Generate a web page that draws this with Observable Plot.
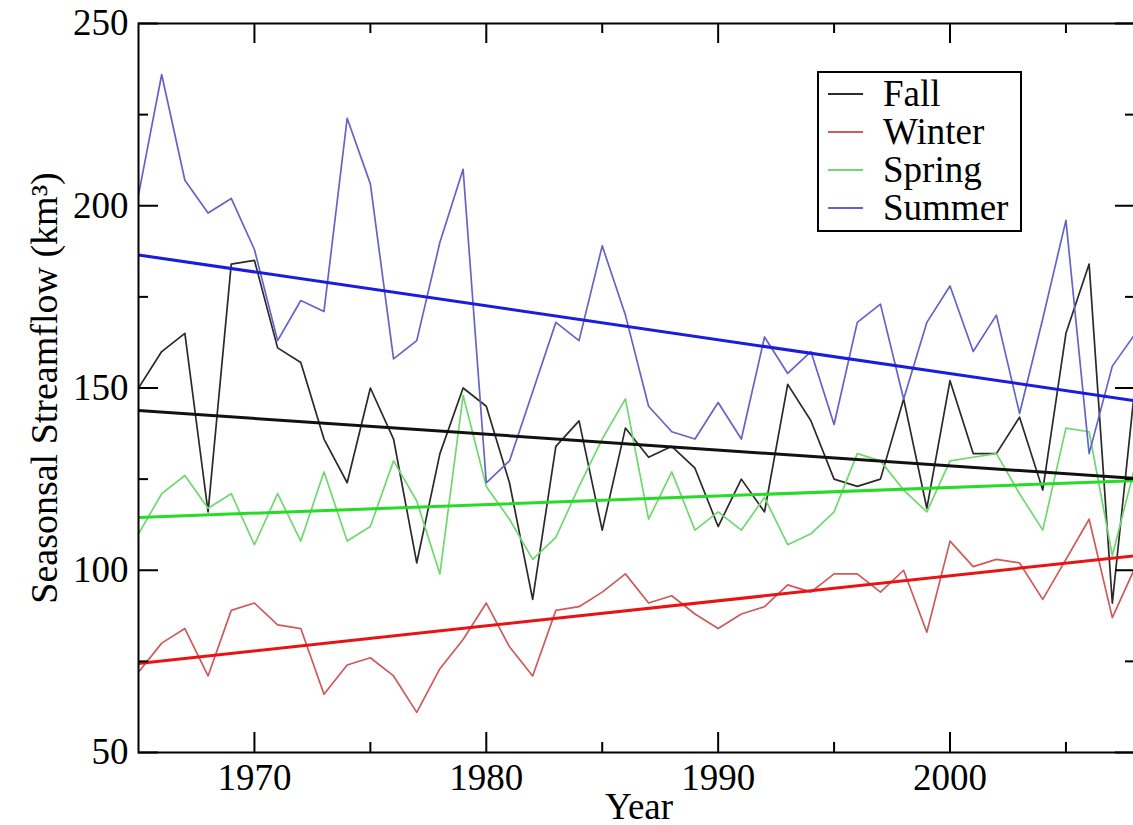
<!DOCTYPE html>
<html>
<head>
<meta charset="utf-8">
<script src="https://cdn.jsdelivr.net/npm/d3@7"></script>
<script src="https://cdn.jsdelivr.net/npm/@observablehq/plot@0.6"></script>
<style>
  html, body { margin: 0; padding: 0; background: #fff; overflow: hidden; }
  #wrap { position: relative; width: 1133px; height: 825px; overflow: hidden; }
  #wrap > svg { overflow: hidden; }
  #wrap > svg text { font-family: "Liberation Serif", "Times New Roman", serif; }
  #legend {
    position: absolute; left: 817px; top: 71px; width: 201px; height: 155px;
    border: 2px solid #000; background: #fff;
    font-family: "Liberation Serif", "Times New Roman", serif; font-size: 37px;
    box-sizing: content-box; padding-top: 2px;
  }
  #legend .row { display: flex; align-items: center; height: 38px; line-height: 38px; }
  #legend svg { margin-left: 9px; margin-right: 20px; flex: none; }
</style>
</head>
<body>
<div id="wrap"><div id="legend"></div></div>
<script>
// Seasonal streamflow, 1965–2008 (km³)
const years = d3.range(1965, 2009);
const seasons = ["Fall", "Winter", "Spring", "Summer"];

const fall = [150, 160, 165, 116, 184, 185, 161, 157, 136, 124, 150, 136, 102, 132, 150, 145, 124, 92, 134, 141,
              111, 139, 131, 134, 128, 112, 125, 116, 151, 141, 125, 123, 125, 147, 117, 152, 132, 132, 142, 122,
              165, 184, 91, 152];
const winter = [72, 80, 84, 71, 89, 91, 85, 84, 66, 74, 76, 71, 61, 73, 81, 91, 79, 71, 89, 90,
                94, 99, 91, 93, 88, 84, 88, 90, 96, 94, 99, 99, 94, 100, 83, 108, 101, 103, 102, 92,
                103, 114, 87, 101];
const spring = [110, 121, 126, 117, 121, 107, 121, 108, 127, 108, 112, 130, 119, 99, 148, 123, 114, 103, 109, 123,
                136, 147, 114, 127, 111, 116, 111, 120, 107, 110, 116, 132, 130, 122, 116, 130, 131, 132, 121, 111,
                139, 138, 104, 129];
const summer = [203, 236, 207, 198, 202, 188, 163, 174, 171, 224, 206, 158, 163, 190, 210, 124, 130, 149, 168, 163,
                189, 170, 145, 138, 136, 146, 136, 164, 154, 160, 140, 168, 173, 147, 168, 178, 160, 170, 143, 169,
                196, 132, 156, 165];

// Linear trend of each season, value at the first and last year
const trendYears = [1965, 2008];
const fallTrend = [143.8, 125.2];
const winterTrend = [74.4, 104.0];
const springTrend = [114.5, 124.6];
const summerTrend = [186.5, 146.5];

// Tick values
const xMajor = [1970, 1980, 1990, 2000];
const xMinor = [1975, 1985, 1995, 2005];
const yMajor = [50, 100, 150, 200, 250];
const yMinor = [75, 125, 175, 225];

const seriesColor = {Fall: "#2a2a2a", Winter: "#cf5a5a", Spring: "#6fd86f", Summer: "#6464c8"};
const trendColor = {Fall: "#111111", Winter: "#e81414", Spring: "#26dc26", Summer: "#1c1cdc"};

const values = {Fall: fall, Winter: winter, Spring: spring, Summer: summer};
const trends = {Fall: fallTrend, Winter: winterTrend, Spring: springTrend, Summer: summerTrend};

const rows = seasons.flatMap(s => years.map((yr, i) => ({season: s, year: yr, value: values[s][i]})));
const trendRows = seasons.flatMap(s => trendYears.map((yr, i) => ({season: s, year: yr, value: trends[s][i]})));

// the plot area runs a couple of pixels past the right edge of the page
const W = 1133, H = 825;
const mTop = 23, mBottom = 73, mLeft = 138, mRight = -2;
const innerH = H - mTop - mBottom;
const innerW = W - mLeft - mRight;
const font = "'Liberation Serif', 'Times New Roman', serif";

const chart = Plot.plot({
  width: W,
  height: H,
  marginTop: mTop,
  marginBottom: mBottom,
  marginLeft: mLeft,
  marginRight: mRight,
  style: {fontFamily: font, background: "white", color: "black"},
  x: {domain: [1965, 2008]},
  y: {domain: [50, 250]},
  marks: [
    // seasonal series
    Plot.line(rows, {x: "year", y: "value", z: "season", stroke: d => seriesColor[d.season], strokeWidth: 1.7, clip: true}),
    // trend lines
    Plot.line(trendRows, {x: "year", y: "value", z: "season", stroke: d => trendColor[d.season], strokeWidth: 3, clip: true}),
    // inward ticks: bottom, top, left, right
    Plot.tickX(xMajor, {x: d => d, insetTop: innerH - 20, stroke: "black", strokeWidth: 2}),
    Plot.tickX(xMinor, {x: d => d, insetTop: innerH - 10, stroke: "black", strokeWidth: 2}),
    Plot.tickX(xMajor, {x: d => d, insetBottom: innerH - 20, stroke: "black", strokeWidth: 2}),
    Plot.tickX(xMinor, {x: d => d, insetBottom: innerH - 10, stroke: "black", strokeWidth: 2}),
    Plot.tickY(yMajor, {y: d => d, insetRight: innerW - 20, stroke: "black", strokeWidth: 2}),
    Plot.tickY(yMinor, {y: d => d, insetRight: innerW - 10, stroke: "black", strokeWidth: 2}),
    Plot.tickY(yMajor, {y: d => d, insetLeft: innerW - 20, stroke: "black", strokeWidth: 2}),
    Plot.tickY(yMinor, {y: d => d, insetLeft: innerW - 10, stroke: "black", strokeWidth: 2}),
    // tick labels
    Plot.axisX(xMajor, {tickSize: 0, tickPadding: 11, fontSize: 37, fontFamily: font, tickFormat: d => String(d), label: null}),
    Plot.axisY(yMajor, {tickSize: 0, tickPadding: 10, fontSize: 37, fontFamily: font, tickFormat: d => String(d), label: null}),
    // axis titles
    Plot.text(["Year"], {text: d => d, frameAnchor: "bottom", lineAnchor: "bottom", textAnchor: "middle", dy: 66, dx: 2, fontSize: 37, fontFamily: font}),
    Plot.text(["Seasonsal Streamflow (km³)"], {text: d => d, frameAnchor: "left", textAnchor: "middle", rotate: -90, dx: -94, fontSize: 38, fontFamily: font}),
    Plot.frame({stroke: "black", strokeWidth: 2})
  ]
});

const wrap = document.getElementById("wrap");
wrap.insertBefore(chart, wrap.firstChild);

// legend
const legend = document.getElementById("legend");
for (const s of seasons) {
  const row = document.createElement("div");
  row.className = "row";
  row.innerHTML = `<svg width="35" height="38"><line x1="0" x2="35" y1="19" y2="19" stroke="${seriesColor[s]}" stroke-width="2"/></svg><span>${s}</span>`;
  legend.appendChild(row);
}
</script>
</body>
</html>
